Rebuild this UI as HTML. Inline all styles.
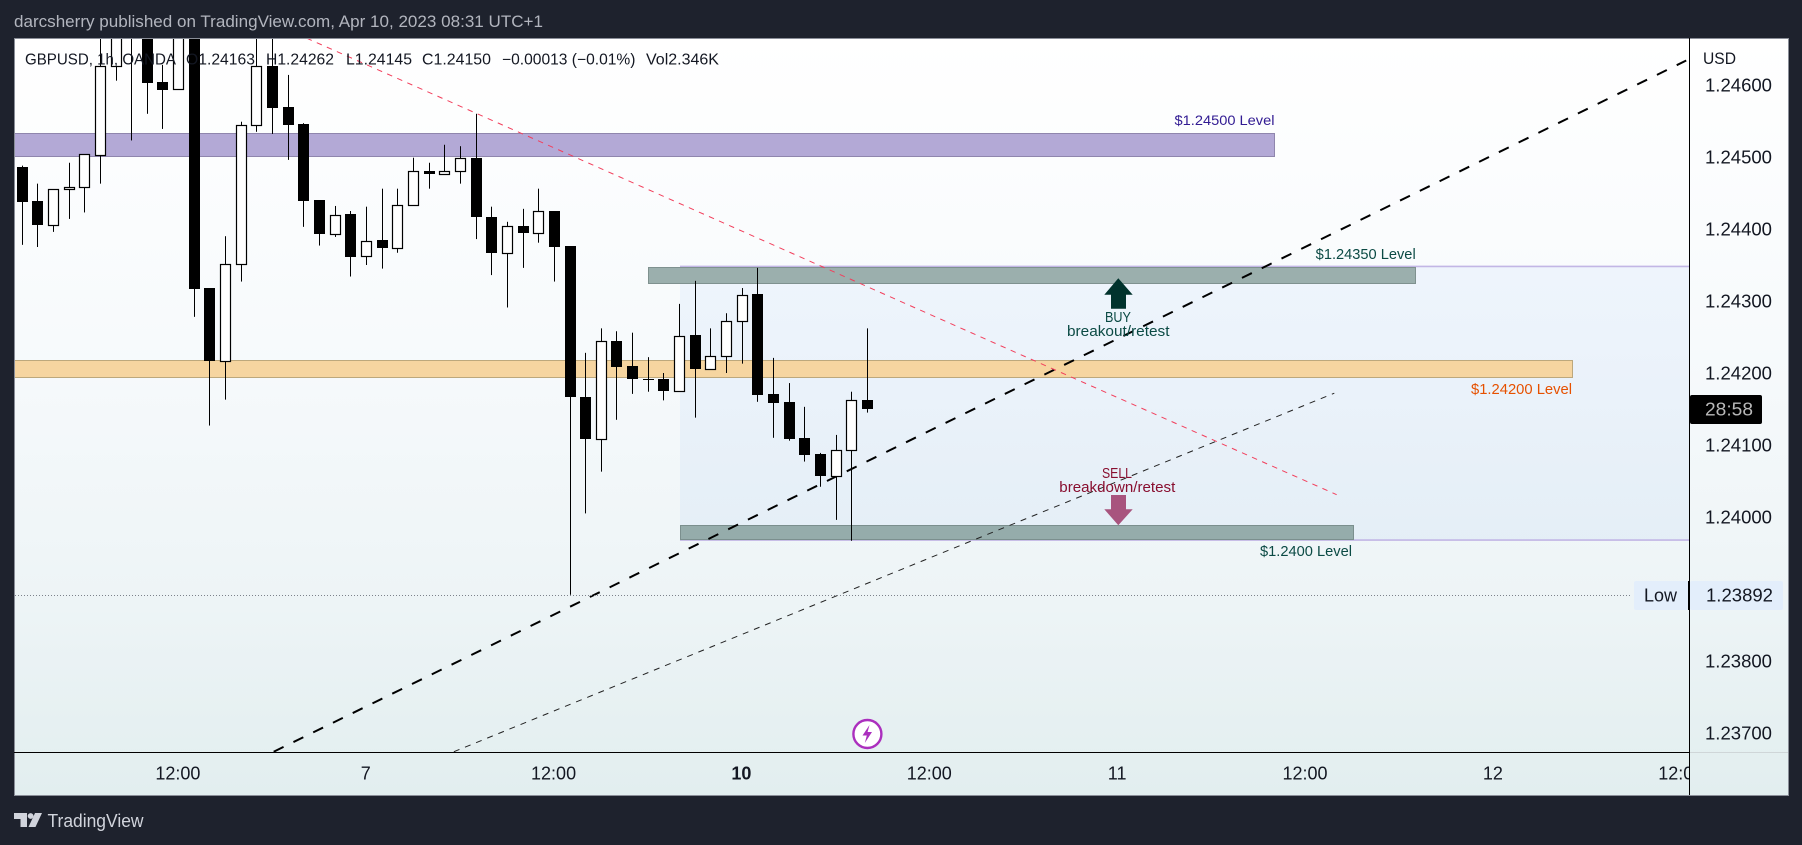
<!DOCTYPE html>
<html lang="en">
<head>
<meta charset="utf-8">
<title>GBPUSD 1h chart</title>
<style>
html,body{margin:0;padding:0;background:#1e222d;width:1802px;height:845px;overflow:hidden}
svg{display:block;font-family:"Liberation Sans",sans-serif}
</style>
</head>
<body>
<svg id="root" xmlns="http://www.w3.org/2000/svg" width="1802" height="845" viewBox="0 0 1802 845">
  <defs>
    <linearGradient id="bg" x1="0" y1="0" x2="0" y2="1">
      <stop offset="0" stop-color="#ffffff"/>
      <stop offset="0.4" stop-color="#f7fafc"/>
      <stop offset="0.75" stop-color="#edf4f6"/>
      <stop offset="1" stop-color="#e2eeef"/>
    </linearGradient>
    <clipPath id="paneClip"><rect x="15" y="39" width="1674" height="713"/></clipPath>
    <clipPath id="timeClip"><rect x="15" y="753" width="1674" height="42"/></clipPath>
  </defs>

  <rect x="0" y="0" width="1802" height="845" fill="#1e222d"/>
  <text x="14" y="27" font-size="16.5" fill="#b2b5be" textLength="529" lengthAdjust="spacingAndGlyphs">darcsherry published on TradingView.com, Apr 10, 2023 08:31 UTC+1</text>

  <rect x="14.5" y="38.5" width="1774" height="757" fill="url(#bg)" stroke="#8a8e98" stroke-width="1"/>

  <g id="pane" clip-path="url(#paneClip)"></g>

  <g id="annotations">
    <text x="1174.5" y="125" font-size="14" fill="#311b92" textLength="100" lengthAdjust="spacingAndGlyphs">$1.24500 Level</text>
    <text x="1315.7" y="259" font-size="14.5" fill="#0b4a44" textLength="100" lengthAdjust="spacingAndGlyphs">$1.24350 Level</text>
    <text x="1471" y="394" font-size="14.5" fill="#e65100" textLength="101" lengthAdjust="spacingAndGlyphs">$1.24200 Level</text>
    <text x="1260" y="556" font-size="14.5" fill="#0b4a44" textLength="92" lengthAdjust="spacingAndGlyphs">$1.2400 Level</text>

    <polygon points="1118.3,278.3 1132.7,294.7 1126,294.7 1126,308.7 1111,308.7 1111,294.7 1104.3,294.7" fill="#01332d"/>
    <text x="1105" y="322" font-size="14.5" fill="#0b4a44" textLength="26" lengthAdjust="spacingAndGlyphs">BUY</text>
    <text x="1067" y="336" font-size="15" fill="#0b4a44" textLength="102.5" lengthAdjust="spacingAndGlyphs">breakout/retest</text>

    <text x="1102" y="478" font-size="14.5" fill="#880e2f" textLength="30" lengthAdjust="spacingAndGlyphs">SELL</text>
    <text x="1059.3" y="492" font-size="15" fill="#880e2f" textLength="116" lengthAdjust="spacingAndGlyphs">breakdown/retest</text>
    <polygon points="1111,495 1126,495 1126,509.3 1132.7,509.3 1118.3,525.3 1104.3,509.3 1111,509.3" fill="#a8547e"/>

    <circle cx="867.4" cy="734" r="14" fill="#ffffff" stroke="#ab2fbe" stroke-width="2.4"/>
    <polygon points="869.5,725 862.5,735.5 866.8,735.5 864.8,743 872,732 867.6,732" fill="#ab2fbe"/>
  </g>

  <g id="legend" font-size="15.5" fill="#131722">
    <text x="25" y="64.5" textLength="151" lengthAdjust="spacingAndGlyphs">GBPUSD, 1h, OANDA</text>
    <text x="186" y="64.5" textLength="69" lengthAdjust="spacingAndGlyphs">O1.24163</text>
    <text x="266" y="64.5" textLength="68" lengthAdjust="spacingAndGlyphs">H1.24262</text>
    <text x="346" y="64.5" textLength="66" lengthAdjust="spacingAndGlyphs">L1.24145</text>
    <text x="422" y="64.5" textLength="69" lengthAdjust="spacingAndGlyphs">C1.24150</text>
    <text x="502" y="64.5" textLength="133.5" lengthAdjust="spacingAndGlyphs">−0.00013 (−0.01%)</text>
    <text x="646" y="64.5" textLength="73" lengthAdjust="spacingAndGlyphs">Vol2.346K</text>
  </g>

  <g id="priceAxis">
    <text x="1703" y="64" font-size="17" fill="#131722" textLength="33" lengthAdjust="spacingAndGlyphs">USD</text>
  </g>
  <g id="timeAxis" clip-path="url(#timeClip)"></g>

  <line x1="14" y1="752.5" x2="1689" y2="752.5" stroke="#000000" stroke-width="1"/>
  <line x1="1689" y1="752.5" x2="1788" y2="752.5" stroke="#cfd6d8" stroke-width="1"/>
  <line x1="1689.5" y1="38" x2="1689.5" y2="795" stroke="#000000" stroke-width="1"/>

  <g>
    <rect x="1690" y="395" width="72" height="29" rx="2" fill="#000000"/>
    <text x="1705" y="415.5" font-size="18" fill="#b8b8b8" textLength="48" lengthAdjust="spacingAndGlyphs">28:58</text>
  </g>

  <g id="lowTag">
    <rect x="1634" y="581" width="54" height="29" rx="2" fill="#e3eefb"/>
    <rect x="1690" y="581" width="93" height="29" rx="2" fill="#e3eefb"/>
    <text x="1644" y="601.5" font-size="18" fill="#131722" textLength="33" lengthAdjust="spacingAndGlyphs">Low</text>
  </g>

  <g>
    <path d="M14 813 H27 V827 H20.5 V819 H14 Z" fill="#d1d4dc"/>
    <circle cx="30.6" cy="816" r="2.9" fill="#d1d4dc"/>
    <polygon points="35,813 42,813 35.5,827 28.5,827" fill="#d1d4dc"/>
    <text x="47.5" y="827" font-size="18" fill="#d1d4dc" textLength="96" lengthAdjust="spacingAndGlyphs">TradingView</text>
  </g>
</svg>

<script>
// ---- OHLC values, one entry per hourly bar ----
var opens = [1.24486,1.24439,1.24405,1.24455,1.24459,1.24503,1.24627,1.24700,1.24760,1.24604,1.24594,1.24800,1.24318,1.24217,1.24351,1.24545,1.24626,1.24569,1.24546,1.24440,1.24393,1.24421,1.24362,1.24385,1.24373,1.24434,1.24481,1.24477,1.24480,1.24499,1.24417,1.24366,1.24404,1.24395,1.24425,1.24376,1.24167,1.24109,1.24244,1.24210,1.24192,1.24192,1.24175,1.24253,1.24205,1.24223,1.24272,1.24310,1.24171,1.24160,1.24110,1.24087,1.24057,1.24093,1.24163];
var closes = [1.24438,1.24405,1.24455,1.24459,1.24504,1.24627,1.24690,1.24760,1.24603,1.24593,1.24800,1.24317,1.24217,1.24351,1.24545,1.24626,1.24568,1.24544,1.24439,1.24393,1.24420,1.24361,1.24384,1.24373,1.24434,1.24480,1.24477,1.24480,1.24498,1.24416,1.24366,1.24404,1.24395,1.24425,1.24375,1.24166,1.24109,1.24244,1.24209,1.24191,1.24192,1.24175,1.24252,1.24205,1.24223,1.24272,1.24309,1.24170,1.24158,1.24109,1.24086,1.24057,1.24093,1.24162,1.24150];
var highs = [1.24488,1.24463,1.24455,1.24492,1.24504,1.24680,1.24720,1.24780,1.24790,1.24628,1.24840,1.24850,1.24318,1.24390,1.24549,1.24670,1.24670,1.24614,1.24547,1.24440,1.24432,1.24425,1.24431,1.24456,1.24456,1.24499,1.24492,1.24517,1.24515,1.24560,1.24431,1.24410,1.24428,1.24456,1.24425,1.24376,1.24228,1.24262,1.24258,1.24256,1.24222,1.24200,1.24296,1.24328,1.24262,1.24283,1.24318,1.24346,1.24221,1.24186,1.24153,1.24089,1.24114,1.24174,1.24262];
var lows = [1.24378,1.24375,1.24396,1.24414,1.24423,1.24463,1.24606,1.24523,1.24560,1.24539,1.24594,1.24278,1.24127,1.24163,1.24327,1.24535,1.24532,1.24496,1.24403,1.24377,1.24389,1.24334,1.24350,1.24345,1.24367,1.24432,1.24456,1.24477,1.24463,1.24386,1.24336,1.24291,1.24346,1.24381,1.24327,1.23892,1.24005,1.24063,1.24135,1.24171,1.24174,1.24162,1.24175,1.24138,1.24205,1.24200,1.24213,1.24160,1.24110,1.24106,1.24077,1.24042,1.23996,1.23967,1.24145];

// ---- axis tick values ----
var priceTicks = [1.246,1.245,1.244,1.243,1.242,1.241,1.24,1.238,1.237];
var timeLabels = ['12:00','7','12:00','10','12:00','11','12:00','12','12:00'];
var timeBars = [10,22,34,46,58,70,82,94,106];
var timeBold = ['10'];
var lowPrice = 1.23892;

// ---- drawing tools, anchored in bar index and price ----
var purpleBandPrices = [1.24533,1.24501];
var purpleBandEndBar = 80;
var orangeBandPrices = [1.24218,1.24194];
var orangeBandEndBar = 99;
var upperGreenPrices = [1.24347,1.24325];
var upperGreenBars = [40,89];
var lowerGreenPrices = [1.23989,1.23969];
var lowerGreenBars = [42,85];
var zonePrices = [1.24348,1.23968];
var zoneStartBar = 42;
var thickTrendBars = [16.07,106.3];
var thickTrendPrices = [1.23674,1.24634];
var thinTrendBars = [27.58,83.82];
var thinTrendPrices = [1.23674,1.24172];
var redTrendBars = [18.18,83.97];
var redTrendPrices = [1.24665,1.24031];

// ---- axis functions ----
function xScale(i){ return 22.1 + 15.655 * i; }
function yScale(p){ return 157 + (1.245 - p) * 72000; }

var NS = 'http://www.w3.org/2000/svg';
function mk(tag, parent, props){
  var el = document.createElementNS(NS, tag);
  for (var k in props) { el.setAttribute(k, props[k]); }
  parent.appendChild(el);
  return el;
}
function bandRect(parent, x1, x2, prices, fill, stroke){
  var bandTop = Math.round(yScale(prices[0]));
  var bandBot = Math.round(yScale(prices[1]));
  return mk('rect', parent, {x:x1+0.5, y:bandTop+0.5, width:x2-x1, height:bandBot-bandTop, fill:fill, stroke:stroke, 'stroke-width':1});
}
function trend(parent, bars, prices, stroke, width, dash){
  return mk('line', parent, {x1:xScale(bars[0]), y1:yScale(prices[0]), x2:xScale(bars[1]), y2:yScale(prices[1]), stroke:stroke, 'stroke-width':width, 'stroke-dasharray':dash});
}

var pane = document.getElementById('pane');
var el;

// price zone behind everything
var zoneX = Math.round(xScale(zoneStartBar));
var zoneTop = yScale(zonePrices[0]);
var zoneBot = yScale(zonePrices[1]);
el = mk('rect', pane, {x:zoneX, y:zoneTop, width:1689-zoneX, height:zoneBot-zoneTop, fill:'#2f7fe8', 'fill-opacity':0.055});


el = mk('line', pane, {x1:zoneX, x2:1689, y1:zoneTop, y2:zoneTop, stroke:'#c2b6e5', 'stroke-width':1.6});


el = mk('line', pane, {x1:zoneX, x2:1689, y1:zoneBot, y2:zoneBot, stroke:'#c2b6e5', 'stroke-width':1.6});



// horizontal level bands
el = bandRect(pane, 5, Math.round(xScale(purpleBandEndBar)), purpleBandPrices, '#b3a9d6', '#8f86ad');


el = bandRect(pane, 5, Math.round(xScale(orangeBandEndBar)), orangeBandPrices, '#f6d5a0', '#bda87c');


el = bandRect(pane, Math.round(xScale(upperGreenBars[0])), Math.round(xScale(upperGreenBars[1])), upperGreenPrices, '#9bafad', '#7f918f');


el = bandRect(pane, Math.round(xScale(lowerGreenBars[0])), Math.round(xScale(lowerGreenBars[1])), lowerGreenPrices, '#95acab', '#7b8f8e');



// trend lines
el = trend(pane, thickTrendBars, thickTrendPrices, '#000000', 2, '11 11');


el = trend(pane, thinTrendBars, thinTrendPrices, '#222222', 1, '6 6');



// low marker
el = mk('line', pane, {x1:15, x2:1632, y1:Math.round(yScale(lowPrice))+0.5, y2:Math.round(yScale(lowPrice))+0.5, stroke:'#7d828b', 'stroke-width':1, 'stroke-dasharray':'1 2'});



// candles
for (var i = 0; i < opens.length; i++) {
  var col = Math.floor(xScale(i));
  var up = closes[i] > opens[i];
  var bodyTop = Math.round(yScale(Math.max(opens[i], closes[i])));
  var bodyBot = Math.round(yScale(Math.min(opens[i], closes[i])));

  var wick = mk('rect', pane, {x:col, y:yScale(highs[i]), width:1, height:yScale(lows[i]) - yScale(highs[i]), fill:'#000000'});
  
  

  var body;
  if (up) {
    body = mk('rect', pane, {x:col-4.5, y:bodyTop+0.5, width:10, height:Math.max(bodyBot-bodyTop,1), fill:'#ffffff', stroke:'#000000', 'stroke-width':1.2});
  } else {
    body = mk('rect', pane, {x:col-5, y:bodyTop, width:11, height:Math.max(bodyBot-bodyTop,1), fill:'#000000'});
  }
  
  
}

// red trend line sits above the bands and candles
el = trend(pane, redTrendBars, redTrendPrices, '#f23f5c', 1, '5.5 5.5');



// price axis labels
var priceAxis = document.getElementById('priceAxis');
priceTicks.forEach(function(p){
  var t = mk('text', priceAxis, {x:1705, y:yScale(p)+6.5, 'font-size':18, fill:'#131722', textLength:67, lengthAdjust:'spacingAndGlyphs'});
  t.textContent = p.toFixed(5);
  
  
});

// time axis labels
var timeAxis = document.getElementById('timeAxis');
timeLabels.forEach(function(label, k){
  var bold = timeBold.indexOf(label) >= 0;
  var t = mk('text', timeAxis, {x:xScale(timeBars[k]) - 0.8, y:779.5, 'font-size':18, fill:'#131722', 'text-anchor':'middle', 'font-weight':bold ? 'bold' : 'normal'});
  t.textContent = label;
  
  
});

// low tag
var lowTag = document.getElementById('lowTag');
var lowText = mk('text', lowTag, {x:1706, y:yScale(lowPrice)+6.5, 'font-size':18, fill:'#131722', textLength:67, lengthAdjust:'spacingAndGlyphs'});
lowText.textContent = lowPrice.toFixed(5);


var lowTick = mk('rect', lowTag, {x:1688, y:581, width:1.5, height:29, fill:'#000000'});


</script>
</body>
</html>
